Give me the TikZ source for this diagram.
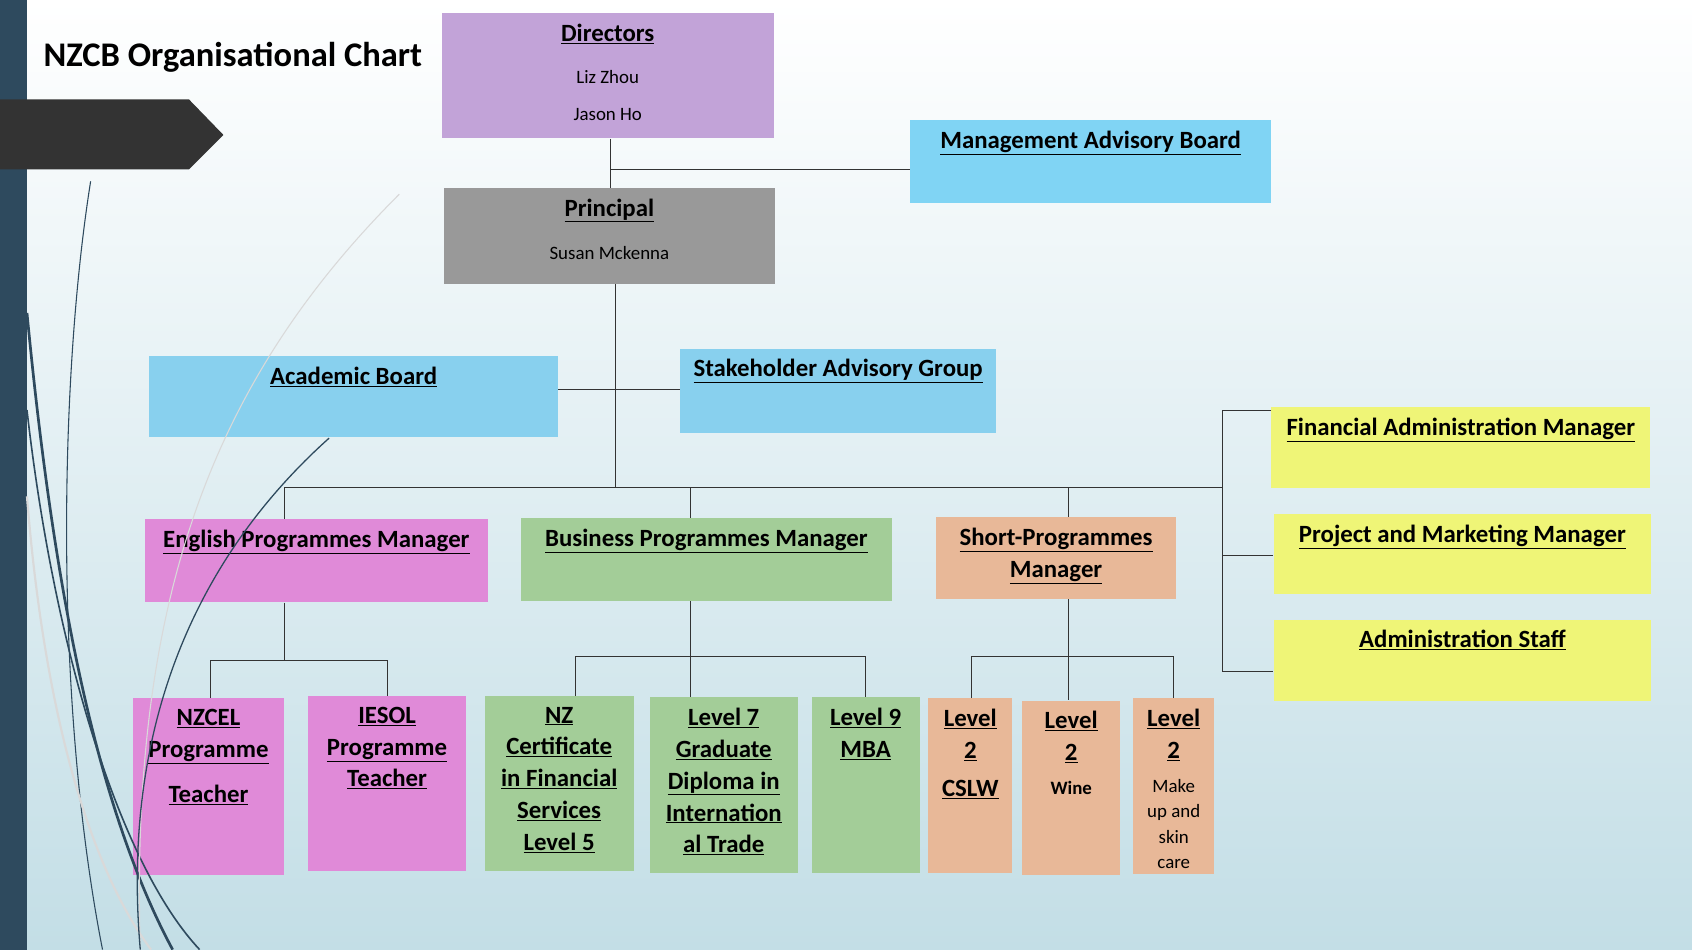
\documentclass[tikz,border=0pt]{standalone}
\usepackage{fontspec}
\setmainfont{Carlito}
\usetikzlibrary{positioning}
\definecolor{dirpurple}{HTML}{C2A3D8}
\definecolor{skyblue}{HTML}{80D4F4}
\definecolor{acblue}{HTML}{88D0EE}
\definecolor{mgrey}{HTML}{999999}
\definecolor{lemon}{HTML}{EFF577}
\definecolor{pinkish}{HTML}{E08AD8}
\definecolor{sage}{HTML}{A3CD98}
\definecolor{peach}{HTML}{E8B898}
\definecolor{stripblue}{HTML}{2E4A5E}
\definecolor{bgblue}{HTML}{C3DEE6}
\newcommand{\orgbox}[7]{%
  \node[box, fill=#1, minimum width=#5pt, minimum height=#6pt] (#2) at (#3,#4) {};
  \node[boxtext, below=8pt] at (#2.north) {#7};}
\newcommand{\plain}[1]{{\fontsize{17.5}{22}\selectfont\mdseries #1}}
\begin{document}
\begin{tikzpicture}[x=1pt,y=-1pt,
    box/.style={rectangle, draw=none, anchor=north west, inner sep=0pt},
    boxtext/.style={align=center, font=\fontsize{23}{29.5}\selectfont\bfseries, inner sep=2pt},
    link/.style={draw=black!80, line width=0.8pt}
  ]
  % background
  \shade[top color=white, bottom color=bgblue] (0,0) rectangle (1568,880);
  \useasboundingbox (0,0) rectangle (1568,880);
  \fill[stripblue] (0,0) rectangle (25,880);
  \fill[black!80] (0,92) -- (175,92) -- (207,125) -- (175,157) -- (0,157) -- cycle;
  % title
  \node[anchor=west, font=\fontsize{32}{36}\selectfont\bfseries] (title) at (37,53) {NZCB Organisational Chart};

  % top
  \orgbox{dirpurple}{dir}{409}{12}{308}{116}{\underline{Directors}\\[10pt]\plain{Liz Zhou}\\[4pt]\plain{Jason Ho}}
  \orgbox{skyblue}{mab}{843}{111}{335}{77}{\underline{Management Advisory Board}}
  \orgbox{mgrey}{prin}{411}{174}{307}{89}{\underline{Principal}\\[11pt]\plain{Susan Mckenna}}
  \orgbox{acblue}{acb}{138}{330}{379}{75}{\underline{Academic Board}}
  \orgbox{acblue}{sag}{630}{323}{293}{78}{\underline{Stakeholder Advisory Group}}
  % admin side
  \orgbox{lemon}{fam}{1178}{377}{351}{75}{\underline{Financial Administration Manager}}
  \orgbox{lemon}{pmm}{1180}{476}{350}{74}{\underline{Project and Marketing Manager}}
  \orgbox{lemon}{ads}{1180}{574}{350}{75}{\underline{Administration Staff}}
  % managers
  \orgbox{pinkish}{epm}{134}{481}{318}{77}{\underline{English Programmes Manager}}
  \orgbox{sage}{bpm}{483}{480}{343}{77}{\underline{Business Programmes Manager}}
  \orgbox{peach}{spm}{867}{479}{223}{76}{\underline{Short-Programmes}\\\underline{Manager}}
  % programmes
  \orgbox{pinkish}{nzcel}{123}{647}{140}{164}{\underline{NZCEL}\\\underline{Programme}\\[12pt]\underline{Teacher}}
  \orgbox{pinkish}{iesol}{285}{645}{147}{162}{\underline{IESOL}\\\underline{Programme}\\\underline{Teacher}}
  \orgbox{sage}{nzcert}{449}{645}{138}{162}{\underline{NZ}\\\underline{Certificate}\\\underline{in Financial}\\\underline{Services}\\\underline{Level 5}}
  \orgbox{sage}{lvlseven}{602}{646}{137}{163}{\underline{Level 7}\\\underline{Graduate}\\\underline{Diploma in}\\\underline{Internation}\\\underline{al Trade}}
  \orgbox{sage}{mba}{752}{646}{100}{163}{\underline{Level 9}\\\underline{MBA}}
  \orgbox{peach}{cslw}{860}{647}{78}{162}{\underline{Level}\\\underline{2}\\[6pt]\underline{CSLW}}
  \orgbox{peach}{wine}{947}{649}{91}{162}{\underline{Level}\\\underline{2}\\[2pt]\plain{\bfseries Wine}}
  \orgbox{peach}{makeup}{1050}{647}{75}{163}{\underline{Level}\\\underline{2}\\[2pt]\plain{Make}\\[-6pt]\plain{up and}\\[-6pt]\plain{skin}\\[-6pt]\plain{care}}

  % swooshes
  \draw[stripblue, line width=1pt] (84,168) .. controls (55,350) and (50,650) .. (95,880);
  \draw[stripblue, line width=2.5pt] (25,290) .. controls (50,550) and (90,750) .. (160,880);
  \draw[stripblue, line width=1.5pt] (25,380) .. controls (50,600) and (110,800) .. (185,880);
  \draw[white!70!gray, line width=2pt] (25,460) .. controls (40,650) and (80,800) .. (140,880);
  \draw[white!70!gray, line width=1pt] (370,180) .. controls (200,350) and (120,550) .. (130,880);
  \draw[stripblue, line width=1.2pt] (305,406) .. controls (200,500) and (110,650) .. (130,880);

  % junctions
  \coordinate (dirj) at (566,157);
  \coordinate (acj) at (570,361);
  \coordinate (busl) at (570,452);
  \coordinate (busr) at (1133,452);
  \coordinate (admtop) at (1133,380);
  \coordinate (admmid) at (1133,515);
  \coordinate (admbot) at (1133,622);
  \coordinate (engj) at (264,612);
  \coordinate (bizj) at (640,608);
  \coordinate (shj) at (990,608);

  % connectors
  \draw[link] (dir.south -| dirj) -- (prin.north -| dirj);
  \draw[link] (dirj) -- (mab.west |- dirj);
  \draw[link] (prin.south -| busl) -- (busl);
  \draw[link] (acb.east |- acj) -- (sag.west |- acj);
  \draw[link] (epm.north -| engj) |- (busr);
  \draw[link] (bpm.north -| bizj) -- (bizj |- busl);
  \draw[link] (spm.north -| shj) -- (shj |- busl);
  \draw[link] (fam.west |- admtop) -- (admtop) -- (admbot) -- (ads.west |- admbot);
  \draw[link] (admmid) -- (pmm.west |- admmid);
  \draw[link] (epm.south -| engj) -- (engj);
  \draw[link] (nzcel.north) ++(2,0) |- (engj) -| (iesol.north);
  \draw[link] (bpm.south -| bizj) -- (lvlseven.north -| bizj);
  \draw[link] (nzcert.north) ++(15,0) |- (bizj) -| (mba.north) ++(-6,0);
  \draw[link] (spm.south -| shj) -- (wine.north -| shj);
  \draw[link] (cslw.north) ++(1,0) |- (shj) -| (makeup.north) ++(-5,0);
\end{tikzpicture}
\end{document}
